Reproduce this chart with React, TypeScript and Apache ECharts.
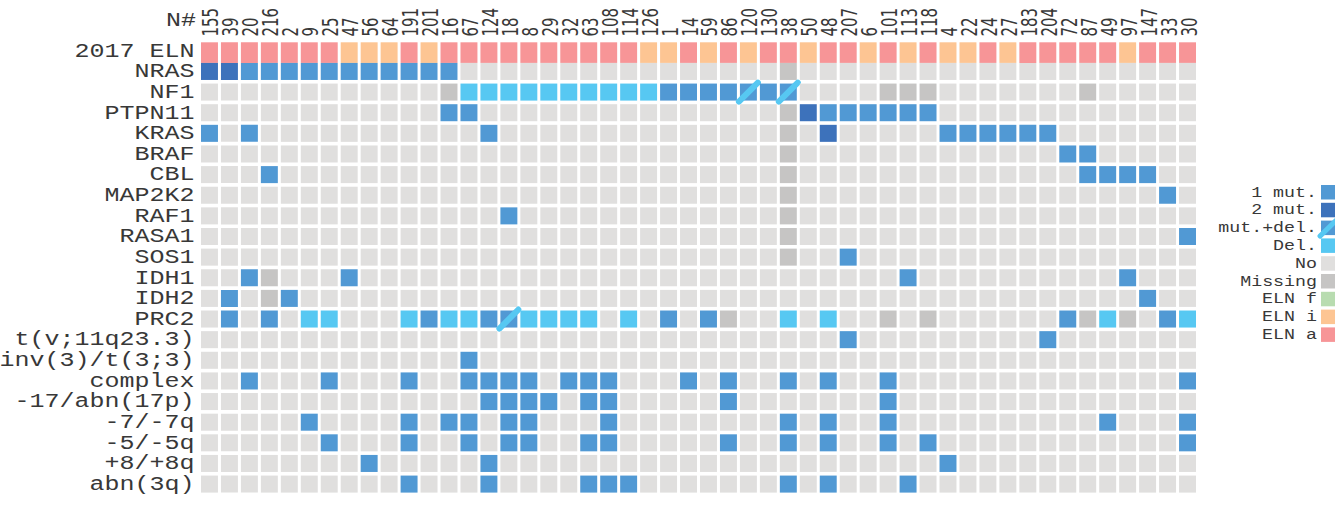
import React, { useEffect, useRef } from 'react';
import * as echarts from 'echarts';

const samples = ['155','39','20','216','2','9','25','47','56','64','191','201','16','67','124','18','8','29','32','63','108','114','126','1','14','59','86','120','130','38','50','48','207','6','101','113','118','4','22','24','27','183','204','72','87','49','97','147','33','30'];

const rowNames = ['2017 ELN','NRAS','NF1','PTPN11','KRAS','BRAF','CBL','MAP2K2','RAF1','RASA1','SOS1','IDH1','IDH2','PRC2','t(v;11q23.3)','inv(3)/t(3;3)','complex','-17/abn(17p)','-7/-7q','-5/-5q','+8/+8q','abn(3q)'];

// codes: '.' No, '1' 1 mut., '2' 2 mut., 'x' mut.+del., 'd' Del., 'm' Missing, 'f'/'i'/'a' ELN
const eln2017 = 'aaaaaaaiii aiaaaaaaaa aaiiaiaiaa iaaiaiaiia iaaaaaiaaa';
const nras    = '2211111111 111....... .........m .......... ..........';
const nf1     = '.......... ..mddddddd ddd1111x1x ....mmm... ....m.....';
const ptpn11  = '.......... ..11...... .........m 2111111... ..........';
const kras    = '1.1....... ....1..... .........m .2.....111 111.......';
const braf    = '.......... .......... .........m .......... ...11.....';
const cbl     = '...1...... .......... .........m .......... ....1111..';
const map2k2  = '.......... .......... .........m .......... ........1.';
const raf1    = '.......... .....1.... .........m .......... ..........';
const rasa1   = '.......... .......... .........m .......... .........1';
const sos1    = '.......... .......... .........m ..1....... ..........';
const idh1    = '..1m...1.. .......... .......... .....1.... ......1...';
const idh2    = '.1.m1..... .......... .......... .......... .......1..';
const prc2    = '.1.1.dd... d1dd1xdddd .d.1.1m..d .d..m.m... ...1mdm.1d';
const t11q23  = '.......... .......... .......... ..1....... ..1.......';
const inv3    = '.......... ...1...... .......... .......... ..........';
const complexK= '..1...1... 1..1111.11 1...1.1..1 .1..1..... .........1';
const del17   = '.......... ....1111.1 1.....1... ....1..... ..........';
const del7    = '.....1.... 1.11.11... 1........1 .1..1..... .....1...1';
const del5    = '......1... 1..1.11..1 1.....1..1 .1..1.1... .........1';
const tri8    = '........1. ....1..... .......... .......1.. ..........';
const abn3q   = '.......... 1...1....1 11.......1 .1...1.... ..........';

const rowStrings = [eln2017, nras, nf1, ptpn11, kras, braf, cbl, map2k2, raf1, rasa1, sos1, idh1, idh2, prc2, t11q23, inv3, complexK, del17, del7, del5, tri8, abn3q];

const codeList = ['1', '2', 'x', 'd', '.', 'm', 'f', 'i', 'a'];
const legendLabels = ['1 mut.', '2 mut.', 'mut.+del.', 'Del.', 'No', 'Missing', 'ELN f', 'ELN i', 'ELN a'];
const codeColors = ['#5199d4', '#3d72bb', '#5199d4', '#57c8f2', '#e0dfde', '#c6c5c4', '#b8dcb0', '#fdc593', '#f79597'];
const DEL_COLOR = '#57c8f2';

const MONO = "'Liberation Mono', 'Courier New', monospace";
const SANS = "'DejaVu Sans', sans-serif";
const TEXT_COLOR = '#383838';

export default function App() {
  const ref = useRef<HTMLDivElement>(null);
  useEffect(() => {
    document.body.style.margin = '0';
    if (!ref.current) return;
    const chart = echarts.init(ref.current, null, { renderer: 'svg' });

    const data: number[][] = [];
    rowStrings.forEach((s, r) => {
      const str = s.replace(/ /g, '');
      for (let c = 0; c < str.length; c++) {
        data.push([c, r, codeList.indexOf(str[c])]);
      }
    });

    const GX = 3;
    const GY = 3.6;
    const renderCell = (params: any, api: any) => {
      const c = api.value(0);
      const r = api.value(1);
      const k = api.value(2);
      const p = api.coord([c, r]);
      const sz = api.size([1, 1]);
      const w = sz[0], h = sz[1];
      const x0 = p[0] - w / 2 + GX / 2;
      const y0 = p[1] - h / 2 + GY / 2;
      const cw = w - GX;
      let ch = h - GY;
      if (r === 0) ch += GY;
      const rect = { type: 'rect', shape: { x: x0, y: y0, width: cw, height: ch }, style: { fill: codeColors[k] } };
      if (codeList[k] === 'x') {
        return {
          type: 'group',
          children: [
            rect,
            { type: 'line', shape: { x1: x0 - 1, y1: y0 + ch + 1, x2: x0 + cw + 1, y2: y0 - 1 }, style: { stroke: DEL_COLOR, lineWidth: 6, lineCap: 'round' } },
          ],
        };
      }
      return rect;
    };

    const renderRowLabel = (params: any, api: any) => {
      const r = api.value(1);
      const p = api.coord([0, r]);
      const w = api.size([1, 1])[0];
      return {
        type: 'text',
        x: p[0] - w / 2 - 5,
        y: p[1] + 0.5,
        scaleX: 1.25,
        style: { text: rowNames[params.dataIndex], font: `20px ${MONO}`, fill: TEXT_COLOR, align: 'right', verticalAlign: 'middle' },
      };
    };

    const renderColLabel = (params: any, api: any) => {
      const c = api.value(0);
      const p = api.coord([c, 0]);
      const h = api.size([1, 1])[1];
      return {
        type: 'text',
        x: p[0] + 1.5,
        y: p[1] - h / 2 - 4,
        rotation: Math.PI / 2,
        scaleY: 1.4,
        style: { text: samples[params.dataIndex], font: `15px ${SANS}`, fill: TEXT_COLOR, align: 'left', verticalAlign: 'middle' },
      };
    };

    const legendTop = 185;
    const legendStep = 17.8;
    const graphics: any[] = [
      { type: 'text', x: 196, y: 21, scaleX: 1.25, style: { text: 'N#', font: `20px ${MONO}`, fill: TEXT_COLOR, align: 'right', verticalAlign: 'middle' } },
    ];
    legendLabels.forEach((lab, i) => {
      const y = legendTop + i * legendStep;
      graphics.push({ type: 'text', x: 1317, y: y + 7.5, scaleX: 1.22, style: { text: lab, font: `15px ${MONO}`, fill: TEXT_COLOR, align: 'right', verticalAlign: 'middle' } });
      graphics.push({ type: 'rect', shape: { x: 1321, y, width: 15, height: 14.5 }, style: { fill: codeColors[i] } });
      if (codeList[i] === 'x') {
        graphics.push({ type: 'line', shape: { x1: 1320, y1: y + 15.5, x2: 1337, y2: y - 1 }, style: { stroke: DEL_COLOR, lineWidth: 5, lineCap: 'round' } });
      }
    });

    chart.setOption({
      animation: false,
      backgroundColor: '#ffffff',
      grid: { left: 199.5, top: 40.5, width: 998, height: 453.9, containLabel: false, outerBoundsMode: 'none' },
      xAxis: {
        type: 'category',
        position: 'top',
        data: samples,
        axisLine: { show: false },
        axisTick: { show: false },
        splitLine: { show: false },
        axisLabel: { show: false },
      },
      yAxis: {
        type: 'category',
        inverse: true,
        data: rowNames,
        axisLine: { show: false },
        axisTick: { show: false },
        splitLine: { show: false },
        axisLabel: { show: false },
      },
      graphic: graphics,
      series: [
        { type: 'custom', renderItem: renderCell, data, encode: { x: 0, y: 1 }, silent: true },
        { type: 'custom', renderItem: renderRowLabel, data: rowNames.map((_, i) => [0, i]), encode: { x: 0, y: 1 }, silent: true },
        { type: 'custom', renderItem: renderColLabel, data: samples.map((_, i) => [i, 0]), encode: { x: 0, y: 1 }, silent: true },
      ],
    });
    return () => chart.dispose();
  }, []);
  return <div ref={ref} style={{ width: 1335, height: 506 }} />;
}
